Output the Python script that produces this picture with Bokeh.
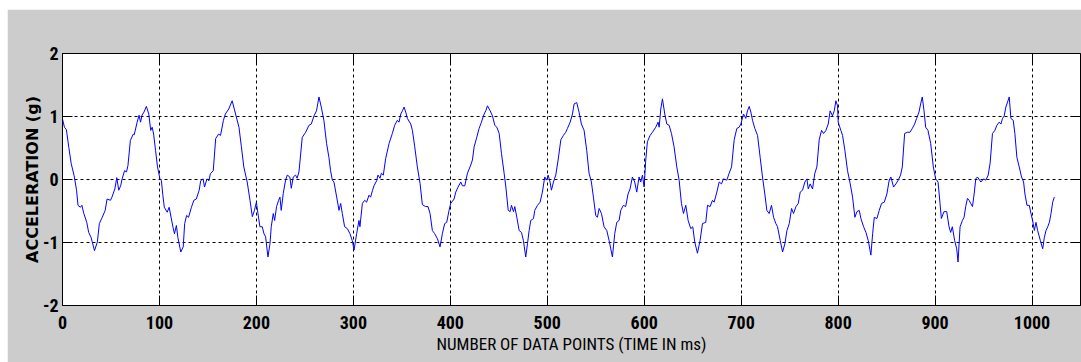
from bokeh.plotting import figure
from bokeh.models import Range1d, FixedTicker, LinearAxis, CustomJSTickFormatter
from bokeh.embed import file_html
from bokeh.resources import INLINE

# ---- data ----
x_ticks = [0, 100, 200, 300, 400, 500, 600, 700, 800, 900, 1000]
y_ticks = [-2, -1, 0, 1, 2]
y_tick_labels = {-2: "-2", -1: "-1", 0: "0", 1: "1", 2: "2"}
x_label = "NUMBER OF DATA POINTS (TIME IN ms)"
y_label = "ACCELERATION (g)"

sample_index = [
    0, 2, 4, 6.5, 9, 12, 14.5, 16, 18.5, 20,
    22, 25, 27, 29.5, 33, 36, 38, 41, 44, 46,
    49.5, 51, 54, 56, 58, 60, 61.5, 64, 66, 67.5,
    70, 73, 74, 77, 79, 80.5, 82, 84, 86.5, 89,
    91, 92.5, 94, 96, 98, 100.5, 102, 103.5, 105, 108,
    110, 112, 114, 115.5, 117.5, 119, 122, 124.5, 126, 128,
    130, 133, 135.5, 138, 141, 142.5, 145, 146.5, 149, 151,
    152.5, 155.5, 158, 161, 163, 166, 168, 171.5, 175, 178.5,
    182,
    184.5, 187, 190.5, 193.4, 195.8, 198, 200, 201.6, 203.6, 206,
    207.8, 209.5, 211.9, 214, 215.3, 217.4, 218.8, 220.8, 222.9, 224.3,
    225.6, 227.7, 230.1, 231.8, 234.5, 236, 238, 240.4, 242, 243.9,
    247.3, 250.8, 254.2, 256.6, 259.4, 262, 264.5, 266.9, 269.6, 272.4,
    274.8, 276.5, 278.3, 280, 282.8, 285.2, 286.9, 288.6, 291, 293.8,
    296.5, 298.9,
    300.7, 303.4, 305.8, 306.8, 309.3, 311.7, 313.7, 316.1, 317.8, 319.6,
    321.3, 324, 325.4, 327.5, 328.9, 330.9, 333.3, 336.8, 340.2, 342.6,
    345.4, 347.1, 348.9, 350.6, 352.3, 354, 355.7, 359.2, 360.9, 363.3,
    366, 368.8, 371.2, 374.6, 377, 379.1, 381.5, 383.9, 386.7, 389.4,
    391.8, 394.2, 396.3, 398.7, 400.4, 403.9, 405.6, 408, 410.8, 412.5,
    414.9, 417.7, 421.1, 422.8, 424.6, 427.3, 429.7, 432.1, 434.9, 436.6,
    438.3, 441.1, 443.5, 445.9, 448, 450.4, 452.8, 455.5, 457.3, 459.7,
    461.7, 463.1, 465.2, 466.5, 468.6, 471, 473.4, 475.4, 477.8, 479.6,
    481.3, 483, 485.8, 487.1, 489.9, 492.6, 495, 497.4, 499.5, 500.9,
    502.9, 504.3, 506.4, 508.8, 511.2, 514, 516.7, 519.1, 520.8, 523.6,
    526, 527.7, 530.4, 532.8, 535.2, 538, 540.7, 543.1, 545.5, 547.6,
    550, 551.7, 553.5, 555.9, 558.6, 561.4, 563.8, 567.2, 569.6, 571.7,
    574.1, 575.8, 578.5, 580.9, 583.3, 585.4, 587.8, 590.2, 592.3, 594.7,
    596.4, 598.2, 599.9, 601.6, 603.3, 606.1, 608.5, 611.9, 614.3, 615.4,
    617.1, 618.8, 621.2, 623.3, 625.7, 628.1, 630.8, 633.6, 636, 638.4,
    640.5, 642.9, 645.3, 648, 650.1, 652.1, 654.9, 657.6,
    660.1, 663.5, 665.3, 668, 670.4, 672.1, 674.9, 677.3, 679.7, 681.8,
    685.2, 687.6, 690.1, 692.8, 695.5, 697.9, 699.7, 702.4, 704.8, 706.5,
    708.3, 710, 711.7, 714.1, 716.9, 719.6, 722, 724.4, 726.5, 728.9,
    731.3, 733.4, 735.8, 737.5, 740.3, 742.7, 745.1, 747.2, 749.6, 752,
    754, 756.5, 758.9, 760.9, 763.3, 765.7, 767.8, 769.2, 771.2, 773.6,
    776, 778.1, 780.5, 782.9, 785, 787.4, 789.8, 791.8, 794.2, 796,
    797.7, 799.4, 800.1, 802.8, 804.6, 807, 809.7, 812.5, 814.9, 817.3,
    819.4, 821.8, 823.5, 826.3, 828.7, 831.1, 833.8, 835.6, 837.3, 840,
    842.4, 844.8, 847.6, 850.3, 852.7, 854.4, 857.2, 859.6, 862, 864.4,
    866.2, 868.6, 871.3, 874.1, 876.5, 878.9, 881, 883.4, 885.1, 886.8,
    888.6, 890.3, 892.7, 895.5, 898.2, 900.6, 903.1, 905.1, 906.5, 909.2,
    912, 914.4, 916.1, 917.8, 920.2, 922.3, 923.7, 925.8, 928.2, 929.9,
    931.6, 933.4, 935.1, 936.8, 938.6, 940.3, 942, 943.7, 947.2, 950,
    952.4, 954.8, 956.8, 959.2, 961.7, 963.7, 966.1, 967.9, 969.6, 971.3,
    973, 974.8, 976.5, 978.2, 980.6, 982.3, 984.4, 986.8, 989.2, 991.3,
    992.7, 994.8, 997.2, 998.9, 1000.6, 1002.4, 1004.1, 1005.8, 1008.6, 1011,
    1012.7, 1014.4, 1016.2, 1017.9, 1019.6, 1021.3, 1023,
]

accel_g = [
    0.96, 0.83, 0.79, 0.51, 0.25, 0.06, -0.17, -0.41, -0.44, -0.41,
    -0.54, -0.68, -0.84, -0.92, -1.13, -0.99, -0.70, -0.60, -0.49, -0.31,
    -0.33, -0.28, -0.15, 0.03, -0.17, -0.10, 0.01, 0.14, 0.12, 0.22,
    0.62, 0.72, 0.71, 0.91, 1.02, 0.91, 1.02, 1.07, 1.16, 1.04,
    0.78, 0.83, 0.72, 0.46, 0.20, 0.01, -0.02, -0.25, -0.44, -0.52,
    -0.44, -0.60, -0.76, -0.86, -0.73, -0.92, -1.15, -1.07, -0.70, -0.57,
    -0.60, -0.44, -0.33, -0.31, -0.17, -0.02, 0.01, -0.12, 0.01, -0.02,
    0.09, 0.14, 0.65, 0.72, 0.70, 0.94, 1.04, 1.12, 1.25, 1.04,
    0.83,
    0.52, 0.20, -0.04, -0.33, -0.59, -0.49, -0.36, -0.54, -0.75, -0.75,
    -0.86, -0.91, -1.23, -1.02, -0.75, -0.54, -0.65, -0.43, -0.33, -0.28,
    -0.49, -0.22, -0.01, 0.07, 0.04, -0.14, 0.04, 0.07, 0.02, 0.12,
    0.67, 0.75, 0.86, 0.88, 1.01, 1.09, 1.31, 1.15, 0.94, 0.57,
    0.35, 0.14, -0.01, -0.04, -0.28, -0.49, -0.38, -0.54, -0.75, -0.78,
    -0.86, -0.97,
    -1.12, -0.86, -0.65, -0.75, -0.38, -0.33, -0.36, -0.25, -0.28, -0.18,
    -0.10, -0.02, 0.07, 0.02, 0.10, 0.07, 0.33, 0.57, 0.73, 0.86,
    0.94, 0.91, 1.04, 1.09, 1.15, 1.07, 0.97, 0.88, 0.78, 0.52,
    0.20, -0.06, -0.40, -0.43, -0.43, -0.54, -0.81, -0.86, -0.94, -1.07,
    -0.86, -0.70, -0.68, -0.49, -0.38, -0.31, -0.20, -0.12, -0.04, -0.10,
    -0.10, 0.10, 0.23, 0.31, 0.52, 0.67, 0.81, 0.91, 1.04, 1.09,
    1.17, 1.09, 1.01, 0.86, 0.83, 0.73, 0.41, 0.10, -0.12, -0.49,
    -0.51, -0.41, -0.51, -0.43, -0.60, -0.81, -0.84, -0.97, -1.23, -1.02,
    -0.81, -0.65, -0.62, -0.49, -0.41, -0.36, -0.20, 0.04, -0.01, 0.07,
    -0.04, -0.17, -0.04, 0.07, 0.31, 0.63, 0.70, 0.75, 0.81, 0.91,
    1.04, 1.20, 1.22, 1.07, 0.88, 0.78, 0.46, 0.10, -0.04, -0.28,
    -0.57, -0.60, -0.46, -0.54, -0.75, -0.81, -0.97, -1.23, -0.86, -0.68,
    -0.65, -0.49, -0.41, -0.43, -0.23, -0.15, 0.04, -0.04, -0.20, 0.04,
    -0.04, 0.07, -0.12, 0.31, 0.60, 0.70, 0.75, 0.83, 0.91, 0.83,
    1.12, 1.28, 1.04, 0.88, 0.86, 0.73, 0.52, 0.20, -0.01, -0.38,
    -0.54, -0.41, -0.65, -0.78, -0.75, -0.99, -1.17, -0.97,
    -0.70, -0.68, -0.41, -0.43, -0.33, -0.36, -0.20, -0.04, -0.07, 0.01,
    -0.01, 0.10, 0.20, 0.63, 0.81, 0.83, 0.88, 1.04, 0.97, 1.09,
    1.16, 1.07, 0.94, 0.81, 0.70, 0.35, 0.04, -0.23, -0.49, -0.54,
    -0.41, -0.60, -0.70, -0.75, -0.97, -1.15, -1.02, -0.81, -0.70, -0.46,
    -0.54, -0.43, -0.38, -0.20, -0.17, -0.04, 0.01, -0.15, -0.07, -0.15,
    0.10, 0.20, 0.63, 0.78, 0.73, 0.78, 0.88, 1.09, 1.01, 1.09,
    1.25, 1.17, 0.91, 0.78, 0.70, 0.46, 0.14, -0.07, -0.28, -0.60,
    -0.51, -0.49, -0.62, -0.75, -0.84, -0.97, -1.20, -0.86, -0.60, -0.62,
    -0.49, -0.38, -0.36, -0.23, -0.01, 0.04, -0.12, -0.07, -0.01, 0.07,
    0.20, 0.73, 0.75, 0.75, 0.81, 0.88, 0.97, 1.07, 1.20, 1.31,
    1.09, 0.83, 0.78, 0.57, 0.20, 0.01, -0.04, -0.38, -0.62, -0.51,
    -0.51, -0.75, -0.84, -0.75, -0.97, -1.10, -1.31, -0.75, -0.65, -0.60,
    -0.43, -0.30, -0.33, -0.38, -0.43, -0.23, 0.01, 0.04, -0.04, 0.01,
    -0.01, 0.07, 0.26, 0.73, 0.78, 0.86, 0.91, 0.88, 0.97, 1.01,
    1.15, 1.23, 1.31, 0.97, 0.94, 0.73, 0.35, 0.20, 0.04, -0.04,
    -0.23, -0.41, -0.41, -0.54, -0.65, -0.81, -0.68, -0.81, -0.97, -1.10,
    -0.92, -0.81, -0.75, -0.68, -0.54, -0.36, -0.28,
]

assert len(sample_index) == len(accel_g)

# ---- styling ----
NARROW = "'Liberation Sans Narrow', 'Arial Narrow', 'Roboto Condensed', 'DejaVu Sans Condensed', 'Liberation Sans', sans-serif"
GRAY = "#cccccc"

p = figure(width=1074, height=353,
           x_range=Range1d(0, 1050), y_range=Range1d(-2, 2),
           output_backend="svg", toolbar_location=None,
           min_border_left=55, min_border_right=1,
           min_border_top=44, min_border_bottom=57,
           background_fill_color="white", border_fill_color=GRAY,
           outline_line_color="black", outline_line_width=1,
           margin=(9, 0, 0, 7))

p.line(sample_index, accel_g, line_color="#0000ff", line_width=1)

for ax in (p.xaxis[0], p.yaxis[0]):
    ax.major_tick_in = 10
    ax.major_tick_out = 0
    ax.minor_tick_in = 0
    ax.minor_tick_out = 0
    ax.axis_line_color = "black"
    ax.major_tick_line_color = "black"
    ax.major_label_text_font = NARROW
    ax.major_label_text_font_style = "bold"
    ax.major_label_text_font_size = "18px"
    ax.major_label_text_color = "black"

p.xaxis.ticker = FixedTicker(ticks=x_ticks)
p.yaxis.ticker = FixedTicker(ticks=y_ticks)
p.yaxis.major_label_overrides = y_tick_labels
p.xaxis.major_label_standoff = 10
p.yaxis.major_label_standoff = 4

p.xaxis.axis_label = x_label
p.xaxis.axis_label_text_font = NARROW
p.xaxis.axis_label_text_font_style = "normal"
p.xaxis.axis_label_text_font_size = "17px"
p.xaxis.axis_label_text_color = "black"
p.xaxis.axis_label_standoff = 2

p.yaxis.axis_label = y_label
p.yaxis.axis_label_text_font = "DejaVu Sans"
p.yaxis.axis_label_text_font_style = "bold"
p.yaxis.axis_label_text_font_size = "16px"
p.yaxis.axis_label_text_color = "black"
p.yaxis.axis_label_standoff = -2

# box ticks on top and right (MATLAB style), no labels
blank = CustomJSTickFormatter(code="return ''")
top = LinearAxis(ticker=FixedTicker(ticks=x_ticks), formatter=blank,
                 major_tick_in=10, major_tick_out=0, minor_tick_in=0, minor_tick_out=0,
                 axis_line_color=None, major_label_standoff=0,
                 major_label_text_font_size="1px")
right = LinearAxis(ticker=FixedTicker(ticks=y_ticks), formatter=blank,
                   major_tick_in=10, major_tick_out=0, minor_tick_in=0, minor_tick_out=0,
                   axis_line_color=None, major_label_standoff=0,
                   major_label_text_font_size="1px")
p.add_layout(top, "above")
p.add_layout(right, "right")

for g in (p.xgrid[0], p.ygrid[0]):
    g.grid_line_color = "black"
    g.grid_line_dash = "3 3"
    g.grid_line_width = 1
    g.grid_line_alpha = 1.0
p.xgrid.ticker = FixedTicker(ticks=x_ticks)
p.ygrid.ticker = FixedTicker(ticks=y_ticks)

open("out.html", "w").write(file_html(p, INLINE))
